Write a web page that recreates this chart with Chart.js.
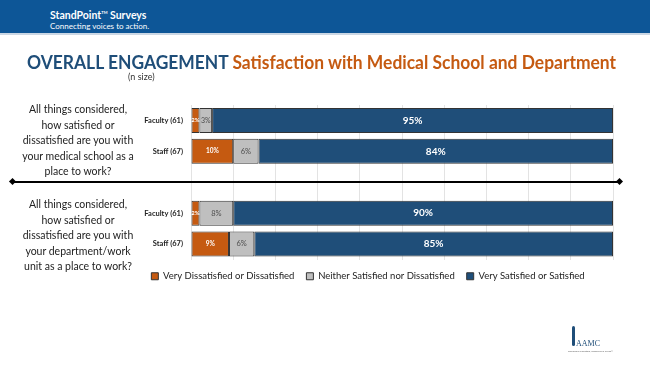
<!DOCTYPE html>
<html lang="en">
<head>
<meta charset="UTF-8">
<title>Overall Engagement</title>
<script src="https://cdn.jsdelivr.net/npm/chart.js"></script>
<style>
  body { margin: 0; width: 650px; height: 366px; overflow: hidden; background: #fff; position: relative;
         font-family: Lato, "Liberation Sans", sans-serif; }
  .header { position: absolute; left: 0; top: 0; width: 650px; height: 33px; background: #0d5697;
            border-bottom: 2px solid #cbd7e4; z-index: 2; }
  .brand { position: absolute; left: 50px; top: 9px; color: #fff; font-weight: bold; font-size: 10.5px; }
  .brand sup { font-size: 4px; vertical-align: 5px; }
  .tagline { position: absolute; left: 50px; top: 21px; color: #fff; font-size: 8px; }
  .title { position: absolute; left: 27px; top: 51px; font-weight: bold; font-size: 18px; line-height: 22px;
           white-space: nowrap; transform-origin: left top; z-index: 2; }
  .title .a { color: #1f4e79; }
  .title .b { color: #c55a11; }
  .nsize { position: absolute; left: 128px; top: 71px; font-size: 9px; color: #333; z-index: 2; }
  .question { position: absolute; left: 8px; width: 140px; text-align: center; font-size: 10.5px;
              line-height: 15.5px; color: #222; z-index: 2; }
  .divider { position: absolute; left: 12px; top: 181px; width: 608px; height: 2px; background: #000; z-index: 3; }
  .divider::before, .divider::after { content: ""; position: absolute; top: -2px; width: 5px; height: 5px;
              background: #000; transform: rotate(45deg); }
  .divider::before { left: -2px; }
  .divider::after { right: -2px; }
  canvas { position: absolute; left: 0; top: 0; z-index: 1; }
  .logo { position: absolute; left: 568px; top: 326px; width: 40px; height: 30px; z-index: 2; }
  .logo .mark { position: absolute; left: 4px; top: 0; width: 3px; height: 20px; background: #1f4e79; border-radius: 2px; }
  .logo .txt { position: absolute; left: 8px; top: 13px; font-family: "Liberation Serif", serif; font-size: 8px; color: #1f4e79; }
  .logo .sub { position: absolute; left: 0; top: 24px; font-size: 2.5px; color: #666; white-space: nowrap; }
</style>
</head>
<body>
<div class="header">
  <div class="brand">StandPoint<sup>TM</sup> Surveys</div>
  <div class="tagline">Connecting voices to action.</div>
</div>
<div class="title" id="title"><span class="a">OVERALL ENGAGEMENT</span> <span class="b">Satisfaction with Medical School and Department</span></div>
<div class="nsize">(n size)</div>
<div class="question" style="top:102px">All things considered,<br>how satisfied or<br>dissatisfied are you with<br>your medical school as a<br>place to work?</div>
<div class="question" style="top:197px">All things considered,<br>how satisfied or<br>dissatisfied are you with<br>your department/work<br>unit as a place to work?</div>
<div class="divider"></div>
<div class="logo"><div class="mark"></div><div class="txt">AAMC</div><div class="sub">Tomorrow's Doctors, Tomorrow's Cures®</div></div>

<canvas id="chart" width="620" height="366"></canvas>

<script>
  // rows: two questions, an empty spacer row between them
  const groups = ["Faculty (61)", "Staff (67)", "", "Faculty (61)", "Staff (67)"];
  const seriesNames = ["Very Dissatisfied or Dissatisfied", "Neither Satisfied nor Dissatisfied", "Very Satisfied or Satisfied"];
  const dissatisfied = [2, 10, null, 2, 9];
  const neutral = [3, 6, null, 8, 6];
  const satisfied = [95, 84, null, 90, 85];
  const xTicks = [0, 10, 20, 30, 40, 50, 60, 70, 80, 90, 100];

  const colors = ["#c55a11", "#bfbfbf", "#1f4e79"];
  const values = [dissatisfied, neutral, satisfied];

  // fit the title to the same width as the original
  const title = document.getElementById('title');
  const w = title.getBoundingClientRect().width;
  title.style.transform = 'scaleX(' + (589 / w) + ')';

  function labelStyle(i, v) {
    if (i === 0) return { font: 'bold ' + (v < 5 ? 6 : 6.5) + 'px Lato', color: '#fff' };
    if (i === 1) return { font: (v < 5 ? 7 : 7.5) + 'px Lato', color: '#4d4d4d' };
    return { font: 'bold 10px Lato', color: '#fff' };
  }

  const valueLabels = {
    id: 'valueLabels',
    afterDatasetsDraw(chart) {
      const ctx = chart.ctx;
      chart.data.datasets.forEach((ds, i) => {
        chart.getDatasetMeta(i).data.forEach((bar, j) => {
          const v = ds.data[j];
          if (v == null) return;
          const s = labelStyle(i, v);
          ctx.save();
          ctx.font = s.font;
          ctx.fillStyle = s.color;
          ctx.textAlign = 'center';
          ctx.textBaseline = 'middle';
          ctx.fillText(v + '%', (bar.x + bar.base) / 2, bar.y);
          ctx.restore();
        });
      });
    }
  };

  new Chart(document.getElementById('chart'), {
    type: 'bar',
    data: {
      labels: groups,
      datasets: seriesNames.map((name, i) => ({
        label: name,
        data: values[i],
        backgroundColor: colors[i],
        borderColor: '#333',
        borderWidth: 1,
        borderSkipped: false,
        barPercentage: 0.81,
        categoryPercentage: 1
      }))
    },
    options: {
      indexAxis: 'y',
      responsive: false,
      animation: false,
      devicePixelRatio: 1,
      layout: { padding: { left: 123, right: 7, top: 105, bottom: 75 } },
      scales: {
        x: {
          stacked: true, min: 0, max: 100,
          afterBuildTicks: scale => { scale.ticks = xTicks.map(v => ({ value: v })); },
          ticks: { display: false },
          grid: { color: '#e3e3e3', drawTicks: false },
          border: { display: false }
        },
        y: {
          stacked: true,
          afterFit: scale => { scale.width = 68; },
          ticks: { color: '#222', font: { family: 'Lato', size: 7.5, weight: 'bold' }, padding: 8 },
          grid: { display: false, drawTicks: false },
          border: { display: false }
        }
      },
      plugins: {
        legend: {
          position: 'bottom',
          labels: {
            boxWidth: 7, boxHeight: 7, padding: 12, color: '#222',
            font: { family: 'Lato', size: 9.5 }
          }
        },
        tooltip: { enabled: false }
      }
    },
    plugins: [valueLabels]
  });
</script>
</body>
</html>
